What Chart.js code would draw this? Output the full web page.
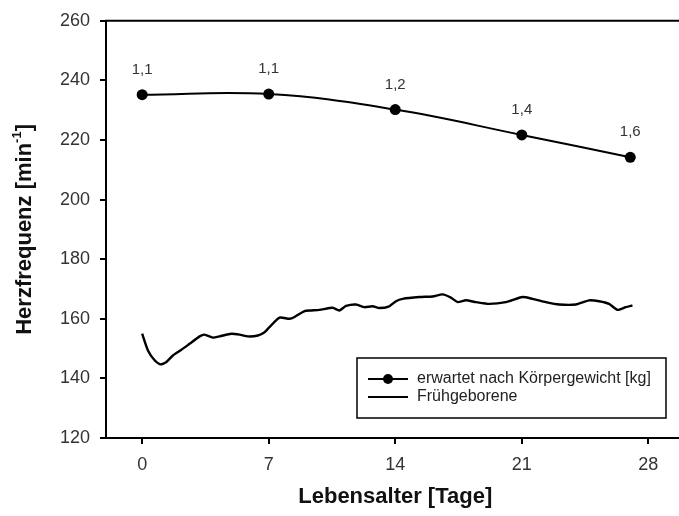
<!DOCTYPE html>
<html><head><meta charset="utf-8">
<script src="https://cdn.jsdelivr.net/npm/chart.js@4"></script>
<style>html,body{margin:0;padding:0;overflow:hidden;background:#fff}#wrap{width:690px;height:516px;position:relative}</style>
</head><body><div id="wrap"><canvas id="c"></canvas></div>
<script>
// ---- data ----
const expectedDays = [0, 7, 14, 21, 27];
const expectedRate = [235.2, 235.4, 230.2, 221.7, 214.2];
const weightLabels = ['1,1', '1,1', '1,2', '1,4', '1,6'];

const pretermDays = [0.0, 0.32, 0.69, 1.01, 1.34, 1.70, 2.17, 2.62, 3.18, 3.45, 3.91, 4.28, 4.93, 5.39, 5.85, 6.40, 6.77, 7.04, 7.60, 8.15, 8.43, 8.98, 9.35, 9.81, 10.54, 10.91, 11.28, 11.83, 12.29, 12.75, 13.12, 13.67, 14.04, 14.41, 15.33, 16.07, 16.62, 17.08, 17.45, 17.91, 18.46, 19.20, 20.12, 21.04, 21.59, 22.33, 23.07, 23.99, 24.72, 25.28, 25.83, 26.29, 26.75, 27.12];
const pretermRate = [155.0, 149.4, 146.1, 144.7, 145.5, 147.7, 149.6, 151.6, 154.1, 154.7, 153.7, 154.1, 155.0, 154.7, 154.1, 154.4, 155.5, 157.2, 160.4, 160.0, 160.6, 162.6, 162.8, 163.0, 163.7, 162.8, 164.3, 164.8, 163.9, 164.2, 163.6, 164.2, 165.9, 166.7, 167.3, 167.5, 168.2, 167.1, 165.6, 166.2, 165.6, 165.0, 165.6, 167.3, 166.7, 165.6, 164.8, 164.8, 166.2, 165.9, 165.0, 163.0, 163.9, 164.5];

const xTicks = [0, 7, 14, 21, 28];
const yTicks = [120, 140, 160, 180, 200, 220, 240, 260];
const seriesNames = ['erwartet nach Körpergewicht [kg]', 'Frühgeborene'];
const xTitle = 'Lebensalter [Tage]';
const yTitleMain = 'Herzfrequenz [min';
const yTitleSup = '-1';
const yTitleEnd = ']';

const FONT = "'Liberation Sans', Arial, sans-serif";

const expectedData = expectedDays.map((d, i) => ({x: d, y: expectedRate[i]}));
const pretermData = pretermDays.map((d, i) => ({x: d, y: pretermRate[i]}));

const decor = {
  id: 'decor',
  afterDraw(chart) {
    const ctx = chart.ctx;
    const a = chart.chartArea;
    ctx.save();
    // top frame line
    ctx.strokeStyle = '#000';
    ctx.lineWidth = 2;
    ctx.beginPath();
    ctx.moveTo(a.left - 1, a.top);
    ctx.lineTo(a.right + 10, a.top);
    ctx.stroke();

    // value labels
    const meta = chart.getDatasetMeta(0);
    ctx.fillStyle = '#333';
    ctx.font = '15px ' + FONT;
    ctx.textAlign = 'center';
    ctx.textBaseline = 'middle';
    meta.data.forEach((pt, i) => {
      ctx.fillText(weightLabels[i], pt.x, pt.y - 25);
    });

    // legend box
    const lx = 357, ly = 358, lw = 309, lh = 60;
    ctx.lineWidth = 1.5;
    ctx.strokeStyle = '#000';
    ctx.strokeRect(lx, ly, lw, lh);
    ctx.lineWidth = 2;
    const rows = [379, 397];
    rows.forEach((ry, i) => {
      ctx.beginPath();
      ctx.moveTo(368, ry);
      ctx.lineTo(408, ry);
      ctx.stroke();
      if (i === 0) {
        ctx.beginPath();
        ctx.arc(388, ry, 5, 0, Math.PI * 2);
        ctx.fillStyle = '#000';
        ctx.fill();
      }
      ctx.fillStyle = '#222';
      ctx.font = '16px ' + FONT;
      ctx.textAlign = 'left';
      ctx.textBaseline = 'middle';
      ctx.fillText(seriesNames[i], 417, ry);
    });

    // x title
    ctx.fillStyle = '#111';
    ctx.font = 'bold 22px ' + FONT;
    ctx.textAlign = 'center';
    ctx.textBaseline = 'middle';
    ctx.fillText(xTitle, (a.left + a.right) / 2, 497);

    // y title with superscript
    ctx.translate(25, (a.top + a.bottom) / 2);
    ctx.rotate(-Math.PI / 2);
    ctx.font = 'bold 22px ' + FONT;
    const w1 = ctx.measureText(yTitleMain).width;
    ctx.font = 'bold 13px ' + FONT;
    const w2 = ctx.measureText(yTitleSup).width;
    ctx.font = 'bold 22px ' + FONT;
    const w3 = ctx.measureText(yTitleEnd).width;
    const total = w1 + w2 + w3;
    let x0 = -total / 2;
    ctx.textAlign = 'left';
    ctx.textBaseline = 'middle';
    ctx.fillText(yTitleMain, x0, 0);
    ctx.font = 'bold 13px ' + FONT;
    ctx.fillText(yTitleSup, x0 + w1, -8);
    ctx.font = 'bold 22px ' + FONT;
    ctx.fillText(yTitleEnd, x0 + w1 + w2, 0);
    ctx.restore();
  }
};

new Chart(document.getElementById('c'), {
  type: 'line',
  data: {
    datasets: [
      {
        label: seriesNames[0],
        data: expectedData,
        borderColor: '#000',
        backgroundColor: '#000',
        borderWidth: 2,
        pointRadius: 5.5,
        pointBackgroundColor: '#000',
        pointBorderWidth: 0,
        tension: 0.4,
        fill: false
      },
      {
        label: seriesNames[1],
        data: pretermData,
        borderColor: '#000',
        borderWidth: 2.4,
        pointRadius: 0,
        tension: 0.2,
        fill: false
      }
    ]
  },
  options: {
    responsive: true,
    maintainAspectRatio: false,
    animation: false,
    events: [],
    layout: {padding: {top: 20, right: 5, left: 0, bottom: 0}},
    plugins: {legend: {display: false}, tooltip: {enabled: false}},
    scales: {
      x: {
        type: 'linear',
        min: -2,
        max: 30,
        afterBuildTicks: s => { s.ticks = xTicks.map(v => ({value: v})); },
        afterFit: s => { s.height = 78; },
        grid: {display: true, drawOnChartArea: false, drawTicks: true, tickLength: 6, color: '#000', lineWidth: 2},
        border: {display: true, color: '#000', width: 2},
        ticks: {color: '#333', font: {family: FONT, size: 18}, padding: 10, maxRotation: 0}
      },
      y: {
        min: 120,
        max: 260,
        afterBuildTicks: s => { s.ticks = yTicks.map(v => ({value: v})); },
        afterFit: s => { s.width = 106; },
        grid: {display: true, drawOnChartArea: false, drawTicks: true, tickLength: 6, color: '#000', lineWidth: 2},
        border: {display: true, color: '#000', width: 2},
        ticks: {color: '#333', font: {family: FONT, size: 18}, padding: 10}
      }
    }
  },
  plugins: [decor]
});
</script>
</body></html>
